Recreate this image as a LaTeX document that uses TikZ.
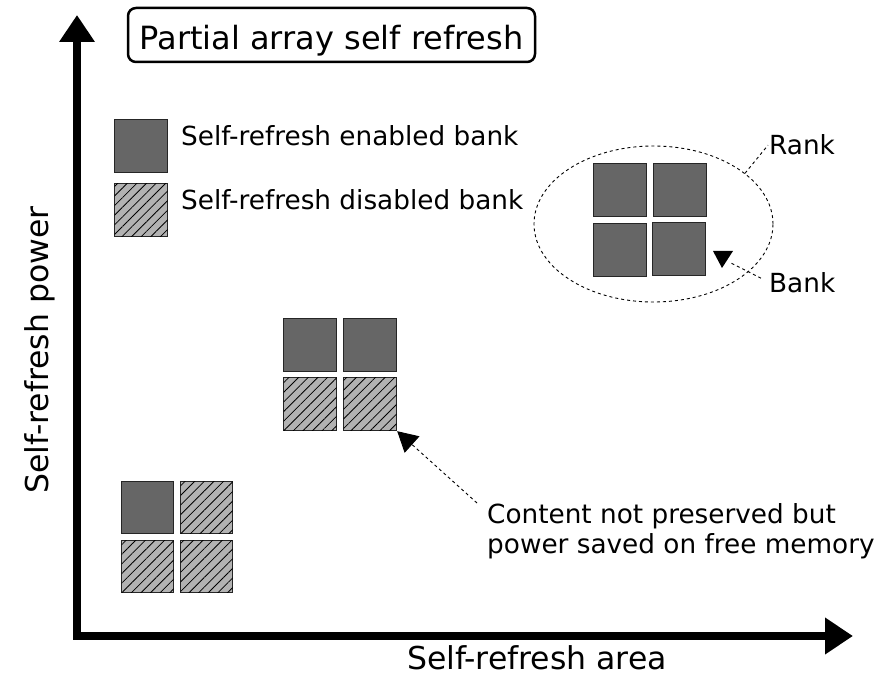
\documentclass[tikz,border=0pt]{standalone}
\usepackage{fontspec}
\setmainfont{DejaVu Sans}
\usetikzlibrary{arrows.meta,patterns.meta,shapes.geometric}
\begin{document}
\begin{tikzpicture}[x=1pt,y=-1pt,
  banktile/.style={draw=black!85, line width=1.2pt, minimum size=53pt, inner sep=0pt, anchor=north west},
  onbank/.style={banktile, fill=black!60},
  offbank/.style={banktile, fill=black!30, postaction={pattern={Lines[angle=45,distance=6.8pt,line width=0.8pt]}}},
  smalltxt/.style={font=\fontsize{26.3}{30}\selectfont, inner sep=0pt},
  bigtxt/.style={font=\fontsize{31.5}{36}\selectfont, inner sep=0pt},
  lead/.style={black, line width=0.9pt, dash pattern=on 3pt off 3pt},
  axisline/.style={line width=8pt, line join=miter, {Triangle[length=27pt,width=34pt]}-{Triangle[length=28pt,width=35pt]}}
]
\useasboundingbox (0,0) rectangle (895,676);

% axes
\coordinate (ytip) at (77,15);
\coordinate (origin) at (77,636);
\coordinate (xtip) at (853,636);
\draw[axisline] (ytip) -- (origin) -- (xtip);
\node[bigtxt, rotate=90, anchor=base] (ylab) at (48,350) {Self-refresh power};
\node[bigtxt, anchor=base] (xlab) at (537,669) {Self-refresh area};

% title
\node[draw, line width=2.5pt, rounded corners=8pt, font=\fontsize{32}{36}\selectfont,
      inner sep=0pt, minimum width=407pt, text height=42pt, text depth=12pt, anchor=base]
      (title) at (331.5,50) {Partial array self refresh};

% legend
\node[onbank] (legon) at (114,119) {};
\node[offbank] (legoff) at (114,183) {};
\node[smalltxt, anchor=base west] (legontxt) at (181,146) {Self-refresh enabled bank};
\node[smalltxt, anchor=base west] (legofftxt) at (181,210) {Self-refresh disabled bank};

% rank
\node[ellipse, draw, lead, minimum width=239pt, minimum height=156pt, inner sep=0pt] (rank) at (653.5,224) {};
\node[onbank] (r1) at (593,163) {};
\node[onbank] (r2) at (653,163) {};
\node[onbank] (r3) at (593,223) {};
\node[onbank] (r4) at (652,222) {};
\node[smalltxt, anchor=base west, inner sep=1pt] (ranklbl) at (768,155) {Rank};
\node[smalltxt, anchor=base west, inner sep=1pt] (banklbl) at (768,293) {Bank};
\draw[lead] (rank.29) -- (ranklbl.west);
\coordinate (bankend) at (729,262);
\draw[lead] ([xshift=-7pt,yshift=5pt]banklbl.west) -- (bankend);
\fill (713,251) -- (733,251) -- (722,268) -- cycle;

% middle group
\node[onbank] (m1) at (283,318) {};
\node[onbank] (m2) at (343,318) {};
\node[offbank] (m3) at (283,377) {};
\node[offbank] (m4) at (343,377) {};

% low group
\node[onbank, minimum size=52pt] (l1) at (121,481) {};
\node[offbank, minimum size=52pt] (l2) at (180,481) {};
\node[offbank, minimum size=52pt] (l3) at (121,540) {};
\node[offbank, minimum size=52pt] (l4) at (180,540) {};

% annotation
\node[smalltxt, align=left, anchor=west] (note) at (487,531) {Content not preserved but\\power saved on free memory};
\coordinate (notestart) at (477,503);
\draw[lead, -{Triangle[length=20pt,width=22pt]}] (notestart) -- (m4.south east);
\end{tikzpicture}
\end{document}
